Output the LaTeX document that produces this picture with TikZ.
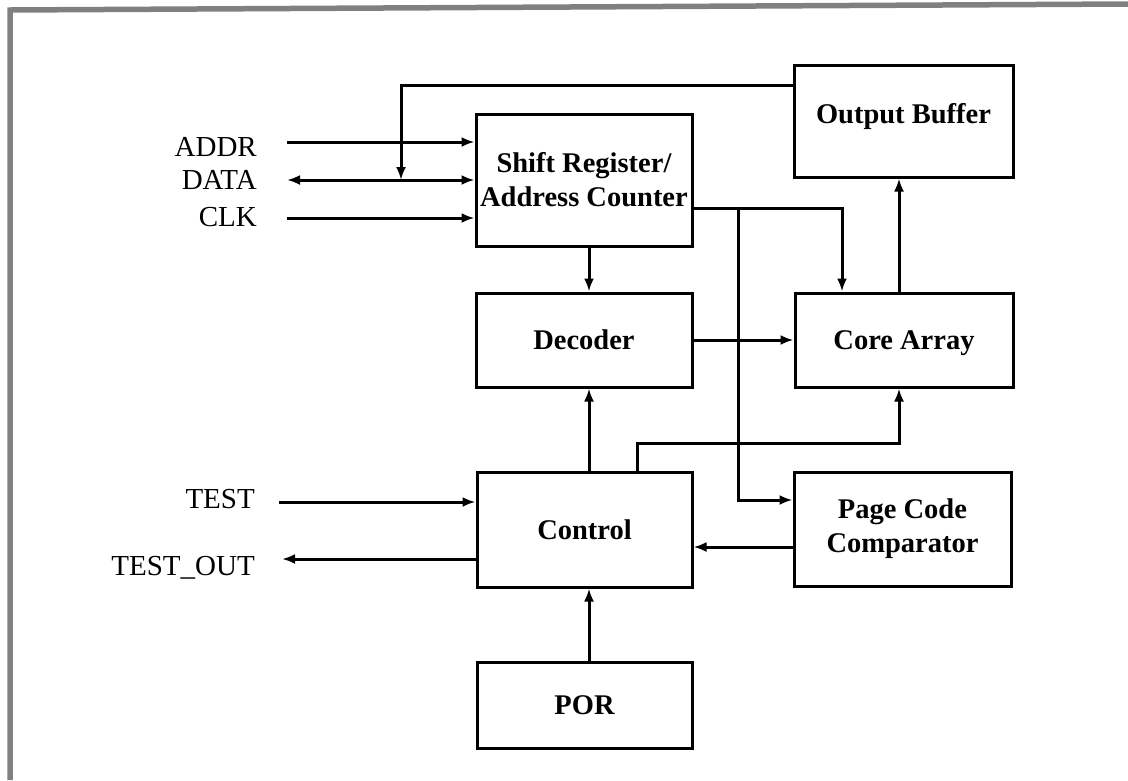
\documentclass[tikz,border=0pt]{standalone}
\usepackage{fontspec}
\setmainfont{Liberation Serif}
\usetikzlibrary{arrows.meta,calc}

\tikzset{
  blk/.style={draw, line width=3pt, rectangle, inner sep=0pt, align=center,
    font=\bfseries\fontsize{28.5}{34}\selectfont},
  oneline/.style={text height=20pt, text depth=1pt},
  sig/.style={inner sep=0pt, anchor=base east, font=\fontsize{29}{33}\selectfont},
  wire/.style={line width=3pt},
  tip/.tip={Latex[length=13pt,width=10pt]},
  arr/.style={wire, -tip},
  arrboth/.style={wire, tip-tip},
  frame/.style={line width=5.5pt, black!50}
}

\begin{document}
\begin{tikzpicture}[x=1pt, y=-1pt]
\useasboundingbox (0,0) rectangle (1128,780);

% scanned page frame (top and left edge)
\draw[frame] (10,780) -- (10,10) -- (1128,4);

% function blocks
\node[blk, minimum width=216, minimum height=132] (shift) at (584,180) {Shift Register/\\Address Counter};
\node[blk, oneline, minimum width=219, minimum height=112, text depth=15pt] (ob) at (903.5,121) {Output Buffer};
\node[blk, oneline, minimum width=216, minimum height=94] (dec) at (584,340) {Decoder};
\node[blk, oneline, minimum width=218, minimum height=94] (core) at (904,340) {Core Array};
\node[blk, oneline, minimum width=215, minimum height=115] (ctrl) at (584.5,529.5) {Control};
\node[blk, minimum width=217, minimum height=114] (pcc) at (902.5,529) {Page Code\\Comparator};
\node[blk, oneline, minimum width=215, minimum height=86] (por) at (584.5,705) {POR};

% external signal names
\node[sig] (addr) at (257,156) {ADDR};
\node[sig] (data) at (257,189) {DATA};
\node[sig] (clk) at (257,226) {CLK};
\node[sig] (test) at (255,508) {TEST};
\node[sig] (tout) at (255,575) {TEST\_OUT};

% wire end points and routing columns
\coordinate (addrin) at (287,142);
\coordinate (datain) at (287,180);
\coordinate (clkin) at (287,218);
\coordinate (testin) at (279,502);
\coordinate (toutend) at (282,559);
\coordinate (fbtop) at (401,85);
\coordinate (colx) at (589,0);
\coordinate (bus) at (738,208);
\coordinate (cc) at (637,443);
\coordinate (obx) at (899,0);
\coordinate (corex) at (842,0);

% serial interface
\draw[arr] (addrin) -- (addrin -| shift.west);
\draw[arrboth] (datain) -- (datain -| shift.west);
\draw[arr] (clkin) -- (clkin -| shift.west);

% output buffer feedback onto DATA
\draw[arr] (fbtop -| ob.west) -- (fbtop) -- (fbtop |- datain);

% address path
\draw[arr] (bus -| shift.east) -| (core.north -| corex);
\draw[arr] (bus) |- ([yshift=29pt]pcc.west);
\draw[arr] (shift.south -| colx) -- (dec.north -| colx);
\draw[arr] (dec.east) -- (core.west);
\draw[arr] (core.north -| obx) -- (ob.south -| obx);

% control paths
\draw[arr] (ctrl.north -| colx) -- (dec.south -| colx);
\draw[arr] (cc |- ctrl.north) -- (cc) -| (core.south -| obx);
\draw[arr] ([yshift=-18pt]pcc.west) -- ([yshift=-18pt]pcc.west -| ctrl.east);
\draw[arr] (por.north -| colx) -- (ctrl.south -| colx);

% test interface
\draw[arr] (testin) -- (testin -| ctrl.west);
\draw[arr] (toutend -| ctrl.west) -- (toutend);
\end{tikzpicture}
\end{document}
